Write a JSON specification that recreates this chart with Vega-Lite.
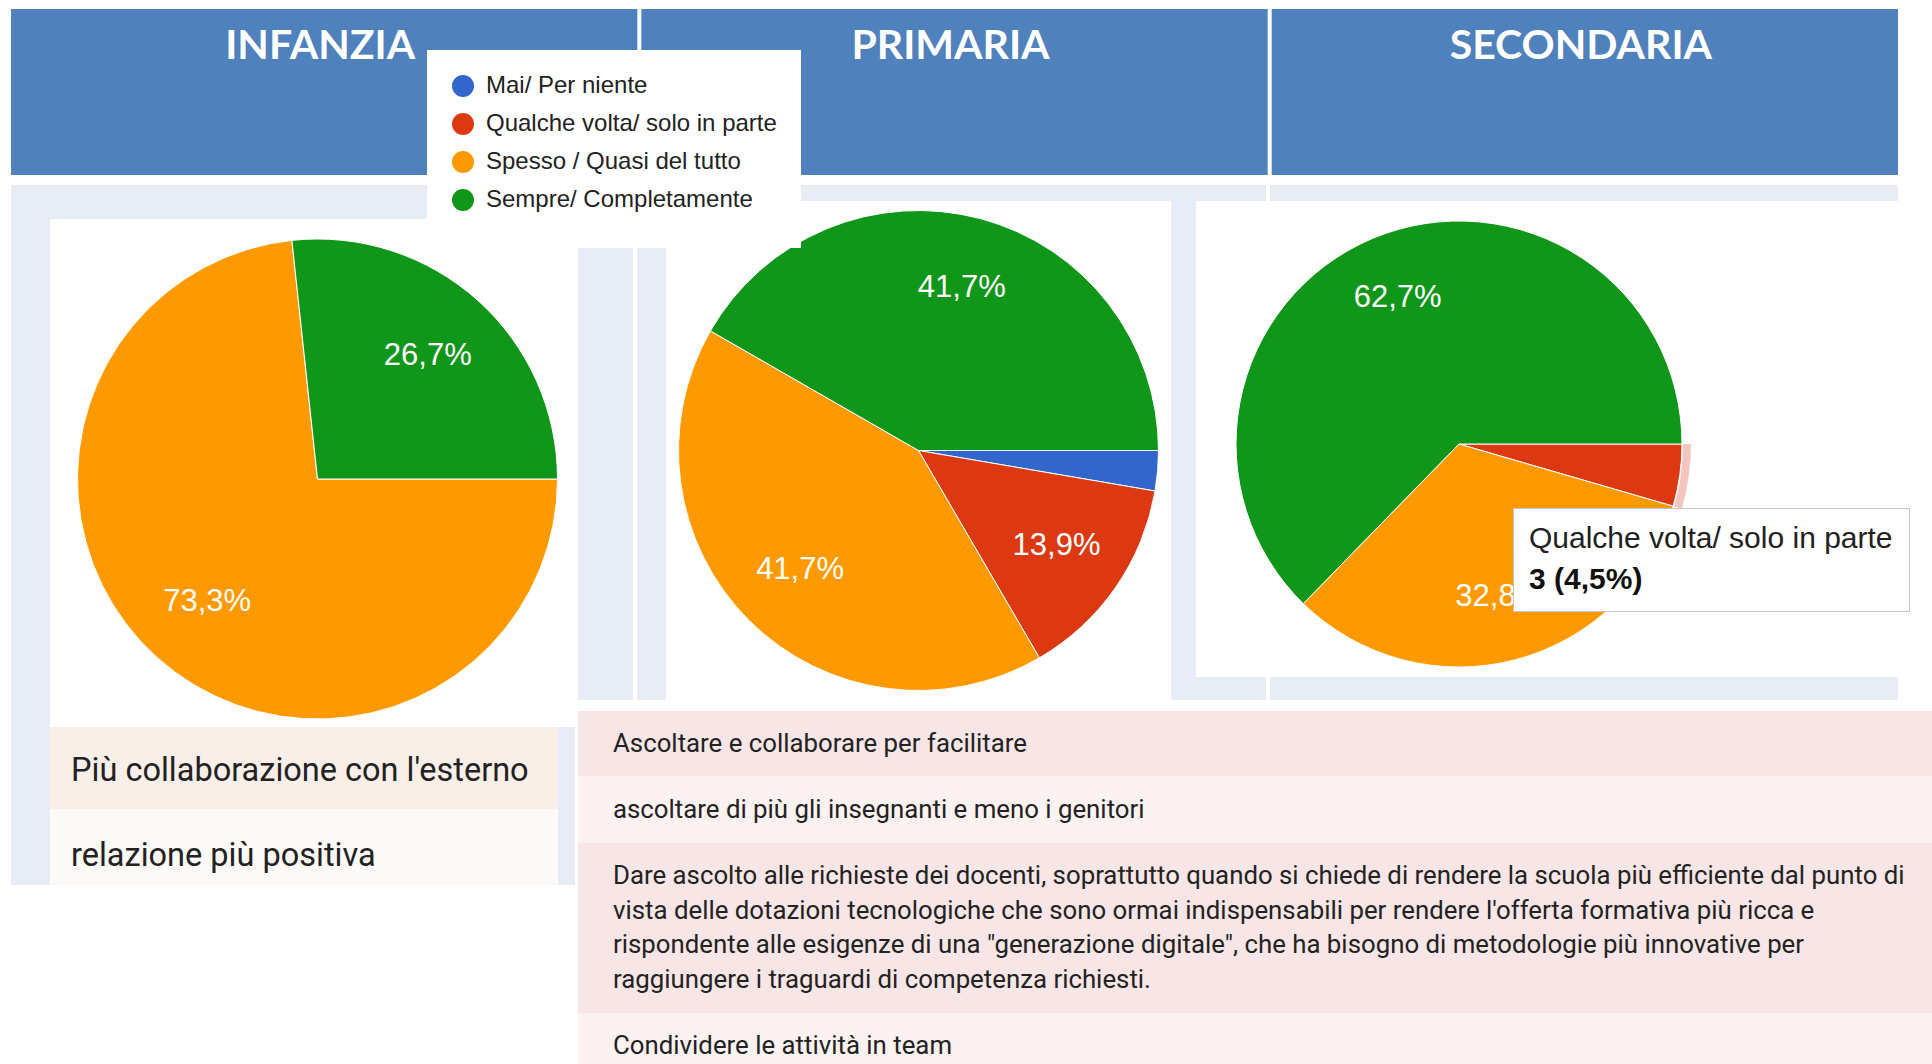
{
  "$schema": "https://vega.github.io/schema/vega-lite/v6.json",
  "padding": {"left": 10, "top": 9, "right": 0, "bottom": 0},
  "background": "white",
  "config": {"view": {"stroke": null}, "font": "Liberation Sans"},
  "datasets": {
    "livelli": [{"livello": "INFANZIA"}, {"livello": "PRIMARIA"}, {"livello": "SECONDARIA"}],
    "esiti": [
      {"livello": "INFANZIA", "risposta": "Mai/ Per niente", "ordine": 1, "quota": 0, "risposte": 0, "etichetta": "0,0%", "dettaglio": "0 (0%)"},
      {"livello": "INFANZIA", "risposta": "Qualche volta/ solo in parte", "ordine": 2, "quota": 0, "risposte": 0, "etichetta": "0,0%", "dettaglio": "0 (0%)"},
      {"livello": "INFANZIA", "risposta": "Spesso / Quasi del tutto", "ordine": 3, "quota": 73.3, "risposte": 11, "etichetta": "73,3%", "dettaglio": "11 (73,3%)"},
      {"livello": "INFANZIA", "risposta": "Sempre/ Completamente", "ordine": 4, "quota": 26.7, "risposte": 4, "etichetta": "26,7%", "dettaglio": "4 (26,7%)"},
      {"livello": "PRIMARIA", "risposta": "Mai/ Per niente", "ordine": 1, "quota": 2.7, "risposte": 2, "etichetta": "2,7%", "dettaglio": "2 (2,7%)"},
      {"livello": "PRIMARIA", "risposta": "Qualche volta/ solo in parte", "ordine": 2, "quota": 13.9, "risposte": 10, "etichetta": "13,9%", "dettaglio": "10 (13,9%)"},
      {"livello": "PRIMARIA", "risposta": "Spesso / Quasi del tutto", "ordine": 3, "quota": 41.7, "risposte": 30, "etichetta": "41,7%", "dettaglio": "30 (41,7%)"},
      {"livello": "PRIMARIA", "risposta": "Sempre/ Completamente", "ordine": 4, "quota": 41.7, "risposte": 30, "etichetta": "41,7%", "dettaglio": "30 (41,7%)"},
      {"livello": "SECONDARIA", "risposta": "Mai/ Per niente", "ordine": 1, "quota": 0, "risposte": 0, "etichetta": "0,0%", "dettaglio": "0 (0%)"},
      {"livello": "SECONDARIA", "risposta": "Qualche volta/ solo in parte", "ordine": 2, "quota": 4.5, "risposte": 3, "etichetta": "4,5%", "dettaglio": "3 (4,5%)"},
      {"livello": "SECONDARIA", "risposta": "Spesso / Quasi del tutto", "ordine": 3, "quota": 32.8, "risposte": 22, "etichetta": "32,8%", "dettaglio": "22 (32,8%)"},
      {"livello": "SECONDARIA", "risposta": "Sempre/ Completamente", "ordine": 4, "quota": 62.7, "risposte": 42, "etichetta": "62,7%", "dettaglio": "42 (62,7%)"}
    ],
    "risposte": [
      {"riga": 1, "testo": "Più collaborazione con l'esterno"},
      {"riga": 2, "testo": "relazione più positiva"},
      {"riga": 3, "testo": "Ascoltare e collaborare per facilitare"},
      {"riga": 4, "testo": "ascoltare di più gli insegnanti e meno i genitori"},
      {"riga": 5, "testo": "Dare ascolto alle richieste dei docenti, soprattutto quando si chiede di rendere la scuola più efficiente dal punto di\nvista delle dotazioni tecnologiche che sono ormai indispensabili per rendere l'offerta formativa più ricca e\nrispondente alle esigenze di una \"generazione digitale\", che ha bisogno di metodologie più innovative per\nraggiungere i traguardi di competenza richiesti."},
      {"riga": 6, "testo": "Condividere le attività in team"}
    ]
  },
  "spacing": 10,
  "vconcat": [
    {
      "width": 1887, "height": 166,
      "data": {"name": "livelli"},
      "encoding": {"x": {"field": "livello", "type": "nominal", "axis": null, "scale": {"paddingInner": 0.0064, "paddingOuter": 0}}},
      "layer": [
        {"mark": {"type": "rect", "color": "#4F81BD"}},
        {"mark": {"type": "text", "font": "Lato", "fontWeight": "bold", "fontSize": 41, "color": "white", "dy": -45, "dx": -4}, "encoding": {"text": {"field": "livello", "type": "nominal"}}}
      ]
    },
    {
      "spacing": 3,
      "hconcat": [
        {
          "spacing": 0,
          "vconcat": [
            {"width": 564, "height": 34, "data": {"values": []}, "mark": "rect", "encoding": {}, "view": {"fill": "#E8ECF4"}},
            {
              "spacing": 0,
              "hconcat": [
                {"width": 39, "height": 666, "data": {"values": []}, "mark": "rect", "encoding": {}, "view": {"fill": "#E8ECF4"}},
                {
                  "spacing": 0,
                  "vconcat": [
                    {"width": 525, "height": 12, "data": {"values": []}, "mark": "rect", "encoding": {}, "view": {"fill": "white"}},
                    {
                      "spacing": 0,
                      "hconcat": [
                        {"width": 10, "height": 496, "data": {"values": []}, "mark": "rect", "encoding": {}, "view": {"fill": "white"}},
                        {
                          "width": 515, "height": 496,
                          "view": {"fill": "white"},
                          "data": {"name": "esiti"},
                          "transform": [{"filter": "datum.livello == 'INFANZIA'"}],
                          "layer": [
                            {"mark": {"type": "arc", "radius": 240, "stroke": "white", "strokeWidth": 1},
                             "encoding": {
                               "theta": {"field": "quota", "type": "quantitative", "stack": true, "scale": {"domain": [0, 100], "range": [1.5707963, 7.8539816]}},
                               "order": {"field": "ordine", "type": "quantitative", "sort": "ascending"},
                               "color": {"field": "risposta", "type": "nominal",
                                 "scale": {"domain": ["Mai/ Per niente", "Qualche volta/ solo in parte", "Spesso / Quasi del tutto", "Sempre/ Completamente"], "range": ["#3366CC", "#DC3912", "#FF9900", "#109618"]},
                                 "legend": {"orient": "none", "legendX": 416, "legendY": 41, "title": " ", "titleOrient": "bottom", "titleFontSize": 8, "titlePadding": 4, "padding": 24, "fillColor": "white", "symbolType": "circle", "symbolSize": 484, "symbolStrokeWidth": 0, "labelFontSize": 24, "labelFont": "Liberation Sans", "labelColor": "#222222", "labelLimit": 500, "rowPadding": 14, "labelOffset": 11}}
                             }},
                            {"mark": {"type": "text", "radius": 165, "fontSize": 31, "font": "Liberation Sans", "fill": "white"},
                             "encoding": {
                               "theta": {"field": "quota", "type": "quantitative", "stack": true, "scale": {"domain": [0, 100], "range": [1.5707963, 7.8539816]}},
                               "order": {"field": "ordine", "type": "quantitative", "sort": "ascending"},
                               "text": {"field": "etichetta", "type": "nominal"},
                               "opacity": {"condition": {"test": "datum.quota < 5", "value": 0}, "value": 1}
                             }}
                          ]
                        }
                      ]
                    },
                    {
                      "spacing": 0,
                      "hconcat": [
                        {
                          "spacing": 0,
                          "vconcat": [
                            {"width": 508, "height": 82, "view": {"fill": "#FAEFE8"}, "data": {"name": "risposte"}, "transform": [{"filter": "datum.riga == 1"}],
                             "mark": {"type": "text", "align": "left", "x": 21, "dy": 3, "font": "Roboto", "fontSize": 32.5, "color": "#222222"},
                             "encoding": {"text": {"field": "testo", "type": "nominal"}}},
                            {"width": 508, "height": 76, "view": {"fill": "#FDF9F7"}, "data": {"name": "risposte"}, "transform": [{"filter": "datum.riga == 2"}],
                             "mark": {"type": "text", "align": "left", "x": 21, "dy": 9, "font": "Roboto", "fontSize": 32.5, "color": "#222222"},
                             "encoding": {"text": {"field": "testo", "type": "nominal"}}}
                          ]
                        },
                        {"width": 17, "height": 158, "data": {"values": []}, "mark": "rect", "encoding": {}, "view": {"fill": "#E8ECF4"}}
                      ]
                    }
                  ]
                }
              ]
            }
          ]
        },
        {
          "spacing": 11,
          "vconcat": [
            {
              "spacing": 0,
              "hconcat": [
                {
                  "spacing": 4,
                  "hconcat": [
                    {"width": 55, "height": 515, "data": {"values": []}, "mark": "rect", "encoding": {}, "view": {"fill": "#E8ECF4"}},
                    {"width": 29, "height": 515, "data": {"values": []}, "mark": "rect", "encoding": {}, "view": {"fill": "#E8ECF4"}}
                  ]
                },
                {
                  "spacing": 0,
                  "vconcat": [
                    {"width": 505, "height": 16, "data": {"values": []}, "mark": "rect", "encoding": {}, "view": {"fill": "#E8ECF4"}},
                    {
                      "width": 505, "height": 499,
                      "view": {"fill": "white"},
                      "data": {"name": "esiti"},
                      "transform": [{"filter": "datum.livello == 'PRIMARIA'"}],
                      "layer": [
                        {"mark": {"type": "arc", "radius": 240, "stroke": "white", "strokeWidth": 1},
                         "encoding": {
                           "theta": {"field": "quota", "type": "quantitative", "stack": true, "scale": {"domain": [0, 100], "range": [1.5707963, 7.8539816]}},
                           "order": {"field": "ordine", "type": "quantitative", "sort": "ascending"},
                           "color": {"field": "risposta", "type": "nominal",
                             "scale": {"domain": ["Mai/ Per niente", "Qualche volta/ solo in parte", "Spesso / Quasi del tutto", "Sempre/ Completamente"], "range": ["#3366CC", "#DC3912", "#FF9900", "#109618"]},
                             "legend": {"orient": "none", "legendX": 416, "legendY": 41, "title": " ", "titleOrient": "bottom", "titleFontSize": 8, "titlePadding": 4, "padding": 24, "fillColor": "white", "symbolType": "circle", "symbolSize": 484, "symbolStrokeWidth": 0, "labelFontSize": 24, "labelFont": "Liberation Sans", "labelColor": "#222222", "labelLimit": 500, "rowPadding": 14, "labelOffset": 11}}
                         }},
                        {"mark": {"type": "text", "radius": 168, "fontSize": 31, "font": "Liberation Sans", "fill": "white"},
                         "encoding": {
                           "theta": {"field": "quota", "type": "quantitative", "stack": true, "scale": {"domain": [0, 100], "range": [1.5707963, 7.8539816]}},
                           "order": {"field": "ordine", "type": "quantitative", "sort": "ascending"},
                           "text": {"field": "etichetta", "type": "nominal"},
                           "opacity": {"condition": {"test": "datum.quota < 5", "value": 0}, "value": 1}
                         }}
                      ]
                    }
                  ]
                },
                {"width": 25, "height": 515, "data": {"values": []}, "mark": "rect", "encoding": {}, "view": {"fill": "#E8ECF4"}},
                {
                  "spacing": 0,
                  "vconcat": [
                    {
                      "spacing": 4,
                      "hconcat": [
                        {"width": 70, "height": 16, "data": {"values": []}, "mark": "rect", "encoding": {}, "view": {"fill": "#E8ECF4"}},
                        {"width": 628, "height": 16, "data": {"values": []}, "mark": "rect", "encoding": {}, "view": {"fill": "#E8ECF4"}}
                      ]
                    },
                    {"width": 526, "height": 10, "data": {"values": []}, "mark": "rect", "encoding": {}, "view": {"fill": "white"}},
                    {
                      "width": 526, "height": 466,
                      "view": {"fill": "white"},
                      "data": {"name": "esiti"},
                      "transform": [{"filter": "datum.livello == 'SECONDARIA'"}],
                      "layer": [
                        {"mark": {"type": "arc", "radius": 223, "stroke": "white", "strokeWidth": 1},
                         "encoding": {
                           "theta": {"field": "quota", "type": "quantitative", "stack": true, "scale": {"domain": [0, 100], "range": [1.5707963, 7.8539816]}},
                           "order": {"field": "ordine", "type": "quantitative", "sort": "ascending"},
                           "color": {"field": "risposta", "type": "nominal",
                             "scale": {"domain": ["Mai/ Per niente", "Qualche volta/ solo in parte", "Spesso / Quasi del tutto", "Sempre/ Completamente"], "range": ["#3366CC", "#DC3912", "#FF9900", "#109618"]},
                             "legend": {"orient": "none", "legendX": 416, "legendY": 41, "title": " ", "titleOrient": "bottom", "titleFontSize": 8, "titlePadding": 4, "padding": 24, "fillColor": "white", "symbolType": "circle", "symbolSize": 484, "symbolStrokeWidth": 0, "labelFontSize": 24, "labelFont": "Liberation Sans", "labelColor": "#222222", "labelLimit": 500, "rowPadding": 14, "labelOffset": 11}}
                         }},
                        {"mark": {"type": "arc", "radius": 232, "radius2": 224, "fill": "#F4C6C0"},
                         "encoding": {
                           "theta": {"field": "quota", "type": "quantitative", "stack": true, "scale": {"domain": [0, 100], "range": [1.5707963, 7.8539816]}},
                           "order": {"field": "ordine", "type": "quantitative", "sort": "ascending"},
                           "opacity": {"condition": {"test": "datum.ordine == 2", "value": 1}, "value": 0}
                         }},
                        {"mark": {"type": "text", "radius": 158, "fontSize": 31, "font": "Liberation Sans", "fill": "white"},
                         "encoding": {
                           "theta": {"field": "quota", "type": "quantitative", "stack": true, "scale": {"domain": [0, 100], "range": [1.5707963, 7.8539816]}},
                           "order": {"field": "ordine", "type": "quantitative", "sort": "ascending"},
                           "text": {"field": "etichetta", "type": "nominal"},
                           "opacity": {"condition": {"test": "datum.quota < 5", "value": 0}, "value": 1}
                         }},
                        {"transform": [{"filter": "datum.ordine == 2"}],
                         "mark": {"type": "point", "opacity": 0},
                         "encoding": {
                           "shape": {"field": "dettaglio", "type": "nominal", "title": "Qualche volta/ solo in parte",
                             "legend": {"orient": "none", "legendX": 1502, "legendY": 499, "padding": 16, "fillColor": "white", "strokeColor": "#C4C4C4", "titleFont": "Liberation Sans", "titleFontSize": 30, "titleFontWeight": "normal", "titleColor": "#222222", "titleLimit": 700, "titlePadding": 11, "labelFont": "Liberation Sans", "labelFontSize": 30, "labelFontWeight": "bold", "labelColor": "#111111", "labelLimit": 700, "symbolSize": 0, "symbolOpacity": 0, "labelOffset": -30}}
                         }}
                      ]
                    },
                    {
                      "spacing": 4,
                      "hconcat": [
                        {"width": 70, "height": 23, "data": {"values": []}, "mark": "rect", "encoding": {}, "view": {"fill": "#E8ECF4"}},
                        {"width": 628, "height": 23, "data": {"values": []}, "mark": "rect", "encoding": {}, "view": {"fill": "#E8ECF4"}}
                      ]
                    }
                  ]
                }
              ]
            },
            {
              "spacing": 0,
              "vconcat": [
                {"width": 1355, "height": 65, "view": {"fill": "#F7E6E5"}, "data": {"name": "risposte"}, "transform": [{"filter": "datum.riga == 3"}],
                 "mark": {"type": "text", "align": "left", "x": 35, "font": "Roboto", "fontSize": 25.8, "color": "#222222"},
                 "encoding": {"text": {"field": "testo", "type": "nominal"}}},
                {"width": 1355, "height": 67, "view": {"fill": "#FBF2F1"}, "data": {"name": "risposte"}, "transform": [{"filter": "datum.riga == 4"}],
                 "mark": {"type": "text", "align": "left", "x": 35, "font": "Roboto", "fontSize": 25.8, "color": "#222222"},
                 "encoding": {"text": {"field": "testo", "type": "nominal"}}},
                {"width": 1355, "height": 170, "view": {"fill": "#F7E6E5"}, "data": {"name": "risposte"}, "transform": [{"filter": "datum.riga == 5"}],
                 "mark": {"type": "text", "align": "left", "x": 35, "dy": -52, "font": "Roboto", "fontSize": 25.8, "color": "#222222", "lineBreak": "\n", "lineHeight": 34.5},
                 "encoding": {"text": {"field": "testo", "type": "nominal"}}},
                {"width": 1355, "height": 51, "view": {"fill": "#FBF2F1"}, "data": {"name": "risposte"}, "transform": [{"filter": "datum.riga == 6"}],
                 "mark": {"type": "text", "align": "left", "x": 35, "dy": 7, "font": "Roboto", "fontSize": 25.8, "color": "#222222"},
                 "encoding": {"text": {"field": "testo", "type": "nominal"}}}
              ]
            }
          ]
        }
      ]
    }
  ]
}
